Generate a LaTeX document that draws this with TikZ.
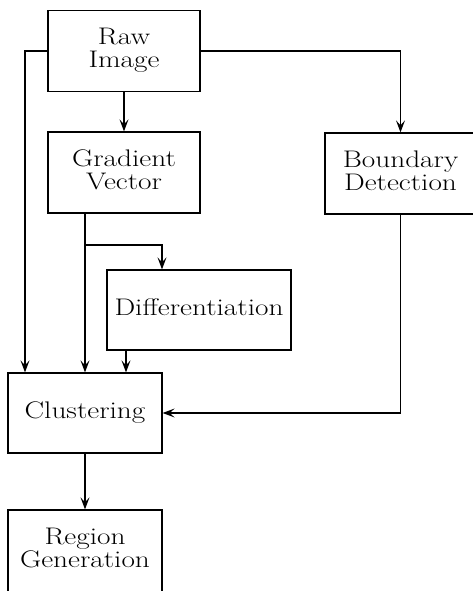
\documentclass[tikz,border=0pt]{standalone}
\usepackage{graphicx}
\usetikzlibrary{arrows.meta,calc}
\begin{document}
\begin{tikzpicture}[x=1pt,y=-1pt,
  box/.style={draw,line width=1.3pt,rectangle,inner sep=0pt,align=center,
    font=\fontsize{24}{22}\selectfont},
  arr/.style={line width=1.1pt,-{Stealth[length=12pt,width=9pt,inset=5pt]}}]
\useasboundingbox (0,0) rectangle (473,591);
\clip (0,0) rectangle (473,591);
\newcommand{\wtxt}[1]{\scalebox{1.22}[1]{\begin{tabular}{@{}c@{}}#1\end{tabular}}}
\node[box,minimum width=152pt,minimum height=81pt] (raw) at (124,51) {\wtxt{Raw\\Image}};
\node[box,minimum width=152pt,minimum height=81pt] (grad) at (124,172.5) {\wtxt{Gradient\\Vector}};
\node[box,minimum width=151pt,minimum height=81pt] (bound) at (400.5,173.5) {\wtxt{Boundary\\Detection}};
\node[box,minimum width=184pt,minimum height=80pt] (diff) at (199,310) {\wtxt{Differentiation}};
\node[box,minimum width=154pt,minimum height=80pt] (clust) at (85,413) {\wtxt{Clustering}};
\node[box,minimum width=154pt,minimum height=82pt] (region) at (85,551) {\wtxt{Region\\Generation}};
\coordinate (br) at (85,245);
\draw[arr] (raw) -- (grad);
\draw[arr] (raw.west) -| ([xshift=-60pt]clust.north);
\draw[arr] (raw.east) -| (bound.north);
\draw[arr] (grad.south -| clust.north) -- (clust.north);
\draw[arr] (br) -| ([xshift=-37pt]diff.north);
\draw[arr] ([xshift=-73pt]diff.south) -- ([xshift=41pt]clust.north);
\draw[arr] (bound.south) |- (clust.east);
\draw[arr] (clust) -- (region);
\end{tikzpicture}
\end{document}
